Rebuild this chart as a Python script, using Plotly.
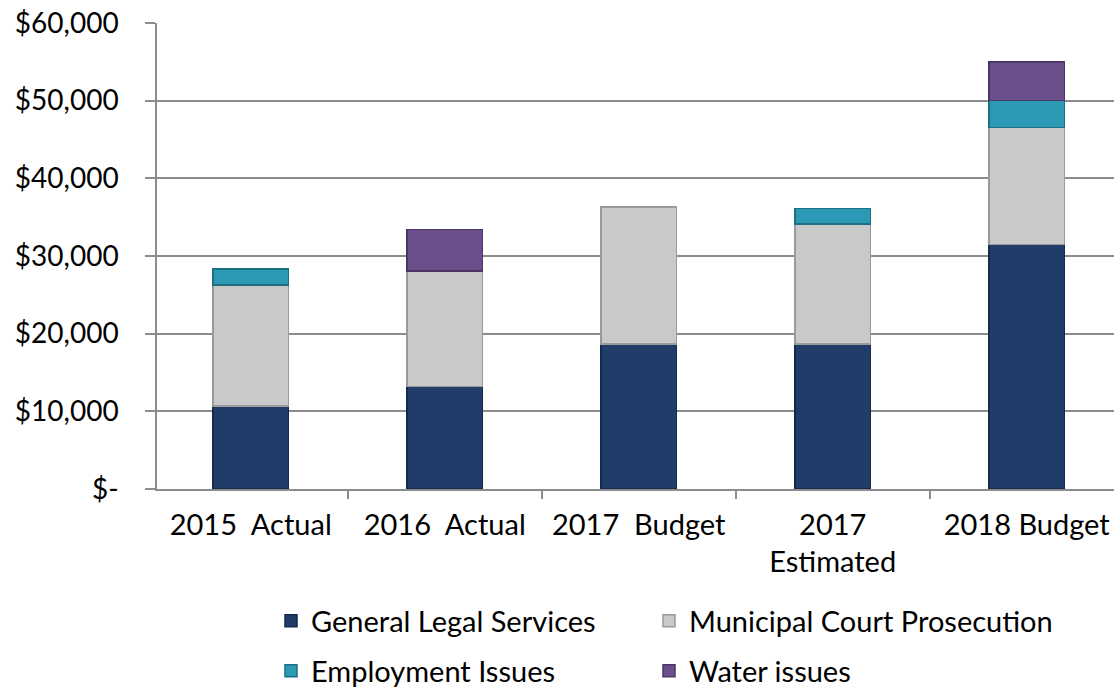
import plotly.graph_objects as go

categories = ["2015  Actual", "2016  Actual", "2017  Budget", "2017<br>Estimated", "2018 Budget"]
general_legal = [10700, 13200, 18650, 18650, 31500]
municipal_court = [15550, 14850, 17650, 15450, 15050]
employment = [2050, 0, 0, 2000, 3500]
water = [0, 5350, 0, 0, 4950]
y_ticks = [0, 10000, 20000, 30000, 40000, 50000, 60000]
y_tick_labels = ["$-", "$10,000", "$20,000", "$30,000", "$40,000", "$50,000", "$60,000"]

FONT = "Lato, 'DejaVu Sans', sans-serif"
W, H = 1114, 688

series = [
    ("General Legal Services", general_legal, "#1F3D68", "#142a4a", "legend"),
    ("Municipal Court Prosecution", municipal_court, "#C9C9C9", "#9a9a9a", "legend2"),
    ("Employment Issues", employment, "#2C9AB4", "#1d6f82", "legend3"),
    ("Water issues", water, "#6A4F8A", "#4b3766", "legend4"),
]

fig = go.Figure()
for name, vals, color, lcolor, lg in series:
    fig.add_trace(go.Bar(
        x=categories, y=[v if v else None for v in vals], name=name,
        marker=dict(color=color, line=dict(color=lcolor, width=1.5)),
        width=0.39, legend=lg, showlegend=True,
    ))


def legend_at(left_px, center_px):
    return dict(
        orientation="h", xref="container", x=left_px / W, xanchor="left",
        yref="container", y=1 - center_px / H, yanchor="middle",
        font=dict(family=FONT, size=29), bgcolor="rgba(0,0,0,0)",
    )


fig.update_layout(
    barmode="stack",
    showlegend=True,
    width=W, height=H,
    margin=dict(l=157, r=0, t=23, b=H - 489, autoexpand=False),
    paper_bgcolor="white", plot_bgcolor="white",
    font=dict(family=FONT, size=26, color="black"),
    xaxis=dict(
        range=[-0.483, 4.45],
        showline=True, linecolor="#8c8c8c", linewidth=1.5,
        ticks="outside", tickson="boundaries", ticklen=8, tickcolor="#8c8c8c", tickwidth=1.5,
        tickfont=dict(family=FONT, size=29), showgrid=False, ticklabelstandoff=9,
    ),
    yaxis=dict(
        range=[0, 60000], tickvals=y_ticks, ticktext=y_tick_labels,
        showline=True, linecolor="#8c8c8c", linewidth=1.5,
        ticks="outside", ticklen=10, tickcolor="#8c8c8c", tickwidth=1.5,
        showgrid=True, gridcolor="#8c8c8c", gridwidth=1.5,
        tickfont=dict(family=FONT, size=28), zeroline=False, ticklabelstandoff=21,
        ticklabeloverflow="allow",
    ),
    legend=legend_at(271, 621),
    legend2=legend_at(649, 621),
    legend3=legend_at(271, 671),
    legend4=legend_at(649, 671),
)

fig.write_html("out.html", config={"displayModeBar": False},
               post_script="document.body.style.margin='0';")
